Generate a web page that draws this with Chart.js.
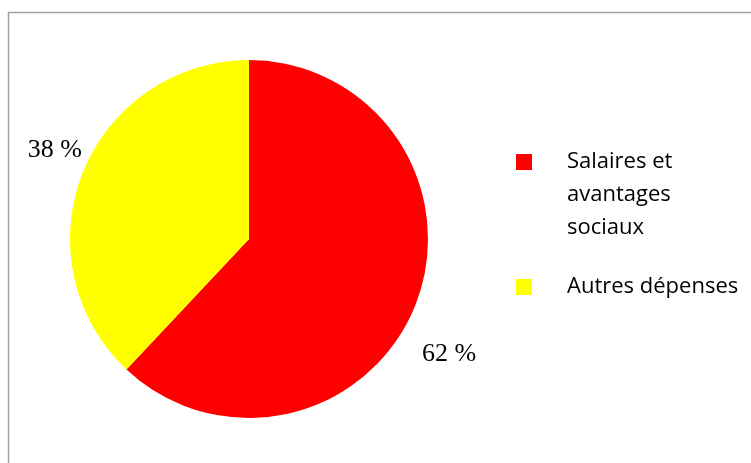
<!DOCTYPE html>
<html>
<head>
<meta charset="utf-8">
<script src="https://cdn.jsdelivr.net/npm/chart.js@4.4.1/dist/chart.umd.min.js"></script>
<style>
  html, body { margin: 0; padding: 0; background: #fff; }
  #wrap { width: 751px; height: 463px; position: relative; }
</style>
</head>
<body>
<div id="wrap"><canvas id="myChart" width="751" height="463"></canvas></div>
<script>
var categories = ["Salaires et avantages sociaux", "Autres dépenses"];
var legendLines = [["Salaires et", "avantages", "sociaux"], ["Autres dépenses"]];
var values = [62, 38];
var colors = ["#FF0000", "#FFFF00"];

// frame around the chart (open on the right and bottom, like the source)
const framePlugin = {
	id: "frame",
	beforeDraw(chart) {
		const ctx = chart.ctx;
		ctx.save();
		ctx.strokeStyle = "#a0a0a0";
		ctx.lineWidth = 1.5;
		ctx.beginPath();
		ctx.moveTo(8.5, 470);
		ctx.lineTo(8.5, 12.5);
		ctx.lineTo(760, 12.5);
		ctx.stroke();
		ctx.restore();
	},
};

// percentage labels outside the slices
const pctLabels = {
	id: "pctLabels",
	afterDatasetsDraw(chart) {
		const ctx = chart.ctx;
		const meta = chart.getDatasetMeta(0);
		const total = values.reduce((a, b) => a + b, 0);
		ctx.save();
		ctx.font = "26px 'Liberation Serif'";
		ctx.fillStyle = "#000";
		ctx.textAlign = "center";
		ctx.textBaseline = "middle";
		meta.data.forEach((arc, i) => {
			const p = arc.getProps(["x", "y", "startAngle", "endAngle", "outerRadius"], true);
			const mid = (p.startAngle + p.endAngle) / 2 + 0.1;
			const r = p.outerRadius * 1.24;
			const pct = Math.round((values[i] / total) * 100);
			ctx.fillText(pct + " %", p.x + Math.cos(mid) * r + 3, p.y + Math.sin(mid) * r + 13);
		});
		ctx.restore();
	},
};

// legend on the right with wrapped labels
const sideLegend = {
	id: "sideLegend",
	afterDraw(chart) {
		const ctx = chart.ctx;
		const lineH = 33;
		let y = 162;
		ctx.save();
		ctx.font = "22px 'Open Sans'";
		ctx.textBaseline = "middle";
		ctx.textAlign = "left";
		legendLines.forEach((lines, i) => {
			ctx.fillStyle = colors[i];
			ctx.fillRect(516, y - 8, 16, 16);
			ctx.fillStyle = "#000";
			lines.forEach((t, j) => {
				ctx.fillText(t, 567, y + j * lineH);
			});
			y += lines.length * lineH + 26;
		});
		ctx.restore();
	},
};

new Chart("myChart", {
	type: "pie",
	data: {
		labels: categories,
		datasets: [
			{
				data: values,
				backgroundColor: colors,
				borderWidth: 0,
			},
		],
	},
	options: {
		responsive: false,
		animation: false,
		layout: { padding: { left: 70, right: 323, top: 60, bottom: 45 } },
		plugins: {
			legend: { display: false },
			tooltip: { enabled: false },
		},
	},
	plugins: [framePlugin, pctLabels, sideLegend],
});
</script>
</body>
</html>
